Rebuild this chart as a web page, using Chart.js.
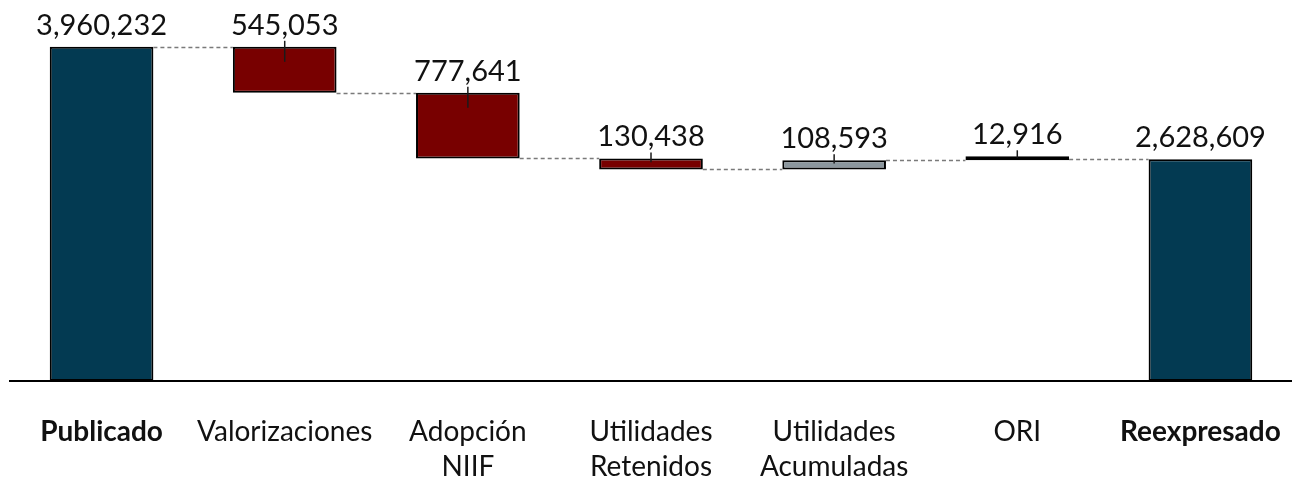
<!DOCTYPE html>
<html>
<head>
<meta charset="utf-8">
<script src="https://cdn.jsdelivr.net/npm/chart.js@4.4.0/dist/chart.umd.min.js"></script>
<style>
  html, body { margin: 0; padding: 0; background: #fff; }
</style>
</head>
<body>
<canvas id="waterfall" width="1292" height="480"></canvas>
<script>
// Waterfall data
const categories = ['Publicado', 'Valorizaciones', ['Adopción', 'NIIF'], ['Utilidades', 'Retenidos'], ['Utilidades', 'Acumuladas'], 'ORI', 'Reexpresado'];
const amounts = [3960232, -545053, -777641, -130438, 108593, 12916, 2628609];
const isTotal = [true, false, false, false, false, false, true];

// Colors
const barColors = ['#033a52', '#780000', '#780000', '#780000', '#8b969d', '#000000', '#033a52'];
const fontFamily = 'Lato, "Open Sans", sans-serif';

// Build floating bars [start, end] from the running total
const runningTotals = [];
const floatingBars = [];
let total = 0;
amounts.forEach(function(v, i) {
    if (isTotal[i]) {
        floatingBars.push([0, v]);
        total = v;
    } else {
        floatingBars.push([total, total + v]);
        total += v;
    }
    runningTotals.push(total);
});

// Labels, leader lines and dashed connectors
const waterfallExtras = {
    id: 'waterfallExtras',
    afterDatasetsDraw: function(chart) {
        const ctx = chart.ctx;
        const meta = chart.getDatasetMeta(0);
        const yScale = chart.scales.y;

        ctx.save();
        // dashed connectors between bars
        ctx.strokeStyle = '#7a7a7a';
        ctx.lineWidth = 1.5;
        ctx.setLineDash([4, 3]);
        for (let i = 0; i < meta.data.length - 1; i++) {
            const a = meta.data[i];
            const b = meta.data[i + 1];
            const y = Math.round(yScale.getPixelForValue(runningTotals[i])) + 0.5;
            ctx.beginPath();
            ctx.moveTo(a.x + a.width / 2, y);
            ctx.lineTo(b.x - b.width / 2, y);
            ctx.stroke();
        }
        ctx.setLineDash([]);

        // value labels with small leader line
        ctx.font = '29px ' + fontFamily;
        ctx.fillStyle = '#111';
        ctx.textAlign = 'center';
        ctx.textBaseline = 'alphabetic';
        meta.data.forEach(function(bar, i) {
            const top = Math.min(bar.y, bar.base);
            const h = Math.abs(bar.base - bar.y);
            ctx.fillText(Math.abs(amounts[i]).toLocaleString('en-US'), bar.x, top - 12);
            if (!isTotal[i]) {
                ctx.strokeStyle = '#1a1a1a';
                ctx.lineWidth = 1.5;
                ctx.beginPath();
                ctx.moveTo(bar.x, top - 6);
                ctx.lineTo(bar.x, top + Math.min(15, h * 0.35));
                ctx.stroke();
            }
        });
        ctx.restore();
    }
};

const ctx = document.getElementById('waterfall').getContext('2d');
new Chart(ctx, {
    type: 'bar',
    data: {
        labels: categories,
        datasets: [{
            data: floatingBars,
            backgroundColor: barColors,
            borderColor: '#000000',
            borderWidth: 2,
            borderSkipped: false,
            barPercentage: 0.566,
            categoryPercentage: 1,
            minBarLength: 4
        }]
    },
    options: {
        responsive: false,
        animation: false,
        devicePixelRatio: 1,
        layout: { padding: { top: 0, left: 10, right: -4, bottom: 0 } },
        plugins: {
            legend: { display: false },
            tooltip: { enabled: false }
        },
        scales: {
            x: {
                grid: { display: false, drawTicks: false },
                border: { display: true, color: '#000000', width: 2 },
                ticks: {
                    color: '#111',
                    padding: 33,
                    maxRotation: 0,
                    autoSkip: false,
                    font: function(c) {
                        const bold = c.index === 0 || c.index === categories.length - 1;
                        return { family: fontFamily, size: 28, weight: bold ? 'bold' : 'normal', lineHeight: 35 / 28 };
                    }
                },
                afterFit: function(scale) {
                    // fixed axis band height, no extra side padding
                    scale.height = 99;
                    scale.paddingLeft = 0;
                    scale.paddingRight = 0;
                }
            },
            y: {
                display: false,
                min: 0,
                max: 4515000
            }
        }
    },
    plugins: [waterfallExtras]
});
</script>
</body>
</html>
